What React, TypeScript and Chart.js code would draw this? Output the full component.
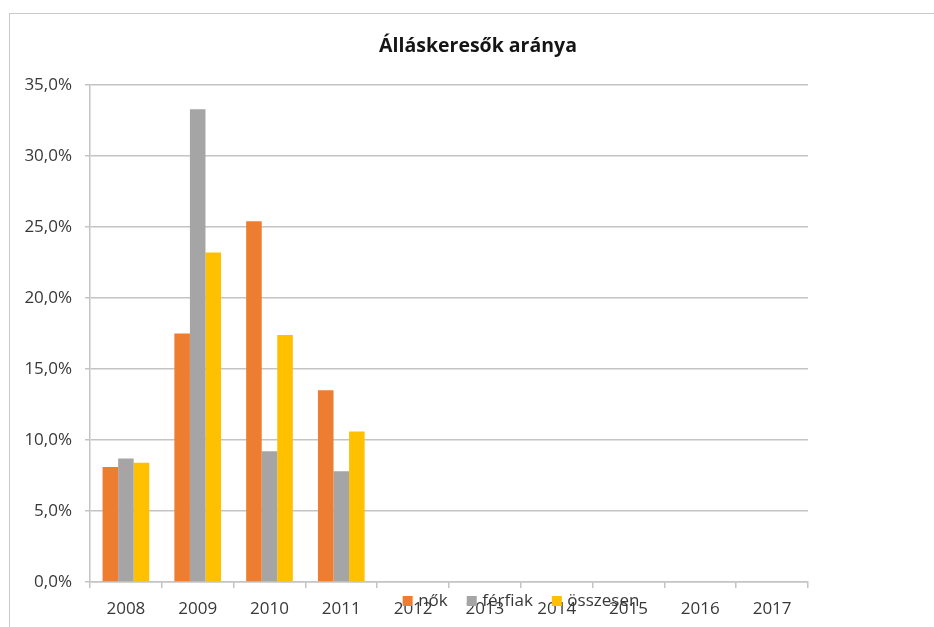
import React, { useEffect, useRef } from 'react';
import { Chart, registerables } from 'chart.js';

Chart.register(...registerables);

const chartTitle = 'Álláskeresők aránya';
const categories = ['2008', '2009', '2010', '2011', '2012', '2013', '2014', '2015', '2016', '2017'];
const seriesLabels = ['nők', 'férfiak', 'összesen'];
const seriesColors = ['#ED7D31', '#A5A5A5', '#FFC000'];
const nokValues = [8.1, 17.5, 25.4, 13.5, null, null, null, null, null, null];
const ferfiakValues = [8.7, 33.3, 9.2, 7.8, null, null, null, null, null, null];
const osszesenValues = [8.4, 23.2, 17.4, 10.6, null, null, null, null, null, null];
const yMin = 0;
const yMax = 35;
const yStep = 5;

const FONT = '"Open Sans", "DejaVu Sans", sans-serif';
const GRID = '#c4c4c4';
const TEXT = '#383838';

const titleAndLegend = {
  id: 'titleAndLegend',
  afterDraw(chart: any) {
    const ctx = chart.ctx;
    ctx.save();
    // title
    ctx.font = `bold 19.5px ${FONT}`;
    ctx.fillStyle = '#151515';
    ctx.textAlign = 'center';
    ctx.textBaseline = 'middle';
    ctx.fillText(chartTitle, 478, 46);

    // legend (overlapping the category labels, as in the source)
    ctx.font = `17px ${FONT}`;
    ctx.textBaseline = 'middle';
    ctx.textAlign = 'left';
    const box = 10;
    const gap = 5.5;
    const itemGap = 19;
    const items = chart.data.datasets.map((ds: any) => ({
      label: ds.label,
      color: ds.backgroundColor,
      w: box + gap + ctx.measureText(ds.label).width,
    }));
    const total = items.reduce((s: number, it: any) => s + it.w, 0) + itemGap * (items.length - 1);
    const centerX = 521;
    const centerY = 601;
    let x = centerX - total / 2;
    items.forEach((it: any) => {
      ctx.fillStyle = it.color;
      ctx.fillRect(x, centerY - 5, box, box);
      ctx.fillStyle = TEXT;
      ctx.fillText(it.label, x + box + gap, centerY);
      x += it.w + itemGap;
    });
    ctx.restore();
  },
};

export default function App() {
  const ref = useRef<HTMLCanvasElement | null>(null);

  useEffect(() => {
    if (!ref.current) return;
    const chart = new Chart(ref.current, {
      type: 'bar',
      data: {
        labels: categories,
        datasets: [
          { label: seriesLabels[0], data: nokValues, backgroundColor: seriesColors[0] },
          { label: seriesLabels[1], data: ferfiakValues, backgroundColor: seriesColors[1] },
          { label: seriesLabels[2], data: osszesenValues, backgroundColor: seriesColors[2] },
        ].map((d) => ({ ...d, borderWidth: 0, categoryPercentage: 0.65, barPercentage: 1 })),
      },
      options: {
        responsive: false,
        animation: false,
        devicePixelRatio: 1,
        layout: { padding: { left: 0, right: 126, top: 85, bottom: 0 } },
        plugins: {
          legend: { display: false },
          tooltip: { enabled: false },
          title: { display: false },
        },
        scales: {
          x: {
            grid: {
              display: true,
              drawOnChartArea: false,
              drawTicks: true,
              tickLength: 6,
              color: GRID,
              lineWidth: 1.5,
              offset: true,
            },
            border: { display: true, color: GRID, width: 1.5 },
            ticks: {
              color: TEXT,
              font: { family: FONT, size: 17 },
              padding: 11,
              maxRotation: 0,
              autoSkip: false,
            },
            afterFit: (s: any) => {
              s.height = 45;
            },
          },
          y: {
            min: yMin,
            max: yMax,
            grid: { color: GRID, lineWidth: 1.5, tickLength: 5 },
            border: { display: true, color: GRID, width: 1.5 },
            ticks: {
              stepSize: yStep,
              color: TEXT,
              font: { family: FONT, size: 17 },
              padding: 13,
              callback: (v: any) => Number(v).toFixed(1).replace('.', ',') + '%',
            },
            afterFit: (s: any) => {
              s.width = 90;
            },
          },
        },
      },
      plugins: [titleAndLegend],
    } as any);
    return () => chart.destroy();
  }, []);

  return (
    <div style={{ position: 'fixed', left: 0, top: 0, width: 934, height: 627, background: '#fff', overflow: 'hidden' }}>
      <div
        style={{
          position: 'absolute',
          left: 9,
          top: 13,
          width: 1000,
          height: 1000,
          border: '1px solid #c8c8c8',
          boxSizing: 'border-box',
        }}
      />
      <canvas ref={ref} width={934} height={627} style={{ position: 'absolute', left: 0, top: 0, width: 934, height: 627 }} />
    </div>
  );
}
